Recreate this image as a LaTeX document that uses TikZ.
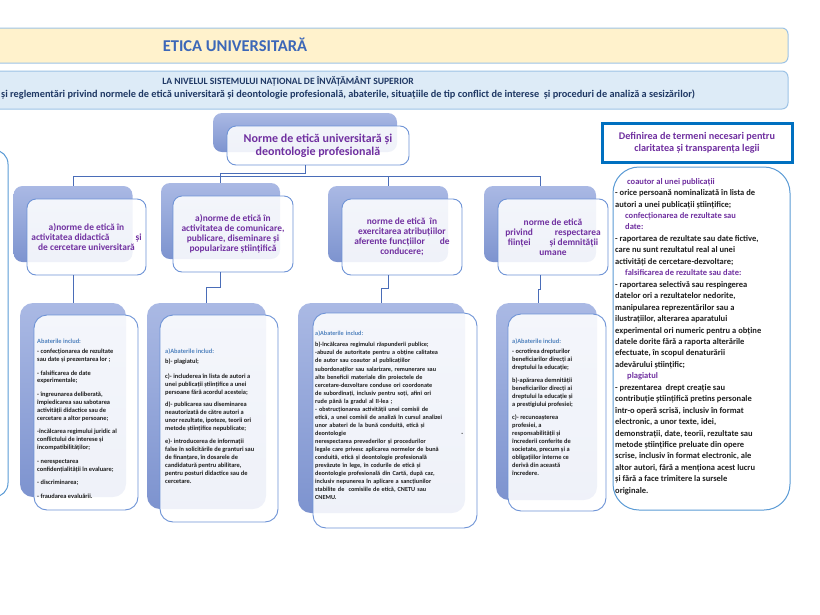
\documentclass[tikz,border=0pt]{standalone}
\usepackage{fontspec}
\setmainfont{Carlito}
\usetikzlibrary{positioning}
\lineskiplimit=-20pt
\definecolor{bklight}{HTML}{AAB9E4}
\definecolor{bkdark}{HTML}{7D93CF}
\definecolor{frontline}{HTML}{6E93D6}
\definecolor{linkblue}{HTML}{4A6DB8}
\definecolor{purp}{HTML}{7030A0}
\definecolor{abhead}{HTML}{4F81BD}
\definecolor{bodytext}{HTML}{1E1E1E}
\definecolor{titlefill}{HTML}{FFF2CC}
\definecolor{subfill}{HTML}{DDEBF7}
\definecolor{bandline}{HTML}{9DC3E6}
\definecolor{titleblue}{HTML}{3C67B8}
\definecolor{navy}{HTML}{1F3864}
\definecolor{definline}{HTML}{0070C0}
\definecolor{termsline}{HTML}{5B9BD5}

\begin{document}
\begin{tikzpicture}[x=1pt, y=-1pt,
  band/.style={rectangle, rounded corners=6pt, draw=bandline, line width=1pt, minimum width=798pt, inner sep=0pt},
  back/.style={rectangle, rounded corners=9pt, top color=bklight, bottom color=bkdark, inner sep=0pt},
  front/.style={rectangle, rounded corners=9pt, draw=frontline, line width=0.9pt, fill=white, fill opacity=0.88, text opacity=1, inner sep=0pt, align=center, text=purp, font=\bfseries\fontsize{9.4}{10}\selectfont},
  abtext/.style={anchor=north west, inner sep=0pt, align=left, text=bodytext, font=\bfseries\fontsize{6.4}{7.8}\selectfont},
  link/.style={draw=linkblue, line width=0.8pt}
]
\useasboundingbox (0,0) rectangle (820,614);

% header bands
\node[band, fill=titlefill, minimum height=35pt] (title) at (389,45.5) {};
\node[text=titleblue, font=\bfseries\fontsize{16.5}{18}\selectfont] (titletxt) at (235,45) {ETICA UNIVERSITARĂ};
\node[band, fill=subfill, minimum height=38pt] (subtitle) at (389,90) {};
\node[text=navy, font=\bfseries\fontsize{9.6}{11}\selectfont] (subline) at (288,81) {LA NIVELUL SISTEMULUI NAȚIONAL DE ÎNVĂȚĂMÂNT SUPERIOR};
\node[anchor=west, inner sep=0pt, text=navy, font=\bfseries\fontsize{10.3}{12}\selectfont] (subnote) at (1,94.5) {și reglementări privind normele de etică universitară și deontologie profesională, abaterile, situațiile de tip conflict de interese \ și proceduri de analiză a sesizărilor)};

% partly hidden box on the left
\node[draw=termsline, line width=1pt, rounded corners=14pt, minimum width=60pt, minimum height=347pt] (leftpart) at (-22,323.5) {};

% main node
\node[back, minimum width=184pt, minimum height=39pt] (mainb) at (305,132.5) {};
\node[front, minimum width=182pt, minimum height=39pt, font=\bfseries\fontsize{12}{13}\selectfont] (mainf) at (318,145.5) {Norme de etică universitară și\\deontologie profesională};

% first level
\node[back, minimum width=119pt, minimum height=76pt] (n1b) at (73,224) {};
\node[back, minimum width=119pt, minimum height=76pt] (n2b) at (220.5,221) {};
\node[back, minimum width=120pt, minimum height=76pt] (n3b) at (388,224) {};
\node[back, minimum width=112pt, minimum height=76pt] (n4b) at (540,224) {};
\node[front, minimum width=119pt, minimum height=76pt] (n1f) at (86.5,237) {a)norme de etică în\\activitatea didactică\hspace{26pt}și\\de cercetare universitară};
\node[front, minimum width=120pt, minimum height=76pt] (n2f) at (233,234) {a)norme de etică în\\activitatea de comunicare,\\publicare, diseminare și\\popularizare științifică};
\node[front, minimum width=120pt, minimum height=76pt] (n3f) at (402,237) {norme de etică \ în\\exercitarea atribuțiilor\\aferente funcțiilor\hspace{15pt}de\\conducere;};
\node[front, minimum width=110pt, minimum height=76pt] (n4f) at (553,237) {norme de etică\\privind\hspace{22pt}respectarea\\ființei\hspace{19pt}și demnității\\umane};

% second level
\node[back, rounded corners=13pt, minimum width=106pt, minimum height=194pt] (ab1b) at (73,400) {};
\node[back, rounded corners=13pt, minimum width=119pt, minimum height=206pt] (ab2b) at (206.5,406) {};
\node[back, rounded corners=13pt, minimum width=167pt, minimum height=210pt] (ab3b) at (381.5,408) {};
\node[back, rounded corners=13pt, minimum width=101pt, minimum height=197pt] (ab4b) at (546.5,401.5) {};
\node[front, rounded corners=13pt, minimum width=104pt, minimum height=195pt] (ab1f) at (86,412.5) {};
\node[front, rounded corners=13pt, minimum width=118pt, minimum height=207pt] (ab2f) at (219,418.5) {};
\node[front, rounded corners=13pt, minimum width=164pt, minimum height=215pt] (ab3f) at (395,420.5) {};
\node[front, rounded corners=13pt, minimum width=98pt, minimum height=197pt] (ab4f) at (557,412.5) {};

% connectors
\coordinate (hub) at (220,176);
\draw[link] (mainb.south |- mainf.south) -- ++(0,8) -| (hub);
\draw[link] (n1b.north |- hub) -- (n4b.north |- hub);
\foreach \n in {n1b,n2b,n3b,n4b}
  \draw[link] (\n.north |- hub) -- (\n.north);
\draw[link] (n1b.south |- n1f.south) -- (ab1b.north);
\draw[link] (n2b.south |- n2f.south) -- ++(0,15) -| (ab2b.north);
\draw[link] (n3b.south |- n3f.south) -- ++(0,13) -| (ab3b.north);
\draw[link] (n4b.south |- n4f.south) -- ++(0,14) -| ([xshift=-8.5pt]ab4b.north);

% texts of the second level
\node[abtext] (ab1txt) at (37,339) {\textcolor{abhead}{Abaterile includ:}\\[2pt]
- confecționarea de rezultate\\
sau date și prezentarea lor ;\\[6pt]
- falsificarea de date\\
experimentale;\\[6pt]
- îngreunarea deliberată,\\
împiedicarea sau sabotarea\\
activității didactice sau de\\
cercetare a altor persoane;\\[6pt]
-încălcarea regimului juridic al\\
conflictului de interese și\\
incompatibilităților;\\[6pt]
- nerespectarea\\
confidențialității în evaluare;\\[6pt]
- discriminarea;\\[6pt]
- fraudarea evaluării.};
\node[abtext, font=\bfseries\fontsize{6.4}{8}\selectfont] (ab2txt) at (165,349) {\textcolor{abhead}{a)Abaterile includ:}\\[2pt]
b)- plagiatul;\\[7pt]
c)- includerea în lista de autori a\\
unei publicații științifice a unei\\
persoane fără acordul acesteia;\\[4pt]
d)- publicarea sau diseminarea\\
neautorizată de către autori a\\
unor rezultate, ipoteze, teorii ori\\
metode științifice nepublicate;\\[5pt]
e)- introducerea de informații\\
false în solicitările de granturi sau\\
de finanțare, în dosarele de\\
candidatură pentru abilitare,\\
pentru posturi didactice sau de\\
cercetare.};
\node[abtext, text width=148pt, font=\bfseries\fontsize{6.2}{8.05}\selectfont] (ab3txt) at (315,331) {\textcolor{abhead}{a)Abaterile includ:}\\[3pt]
b)-încălcarea regimului răspunderii publice;\\
-abuzul de autoritate pentru a obține calitatea\\
de autor sau coautor al publicațiilor\\
subordonaților sau salarizare, remunerare sau\\
alte beneficii materiale din proiectele de\\
cercetare-dezvoltare conduse ori coordonate\\
de subordinați, inclusiv pentru soți, afini ori\\
rude până la gradul al II-lea ;\\
- obstrucționarea activității unei comisii de\\
etică, a unei comisii de analiză în cursul analizei\\
unor abateri de la bună conduită, etică și\\
deontologie\hfill-\\
nerespectarea prevederilor și procedurilor\\
legale care privesc aplicarea normelor de bună\\
conduită, etică și deontologie profesională\\
prevăzute în lege, în codurile de etică și\\
deontologie profesională din Cartă, după caz,\\
inclusiv nepunerea în aplicare a sancțiunilor\\
stabilite de \ comisiile de etică, CNETU sau\\
CNEMU.};
\node[abtext, font=\bfseries\fontsize{6.4}{8}\selectfont] (ab4txt) at (512,339) {\textcolor{abhead}{a)Abaterile includ:}\\[2pt]
- ocrotirea drepturilor\\
beneficiarilor direcți ai\\
dreptului la educație;\\[5pt]
b)-apărarea demnității\\
beneficiarilor direcți ai\\
dreptului la educație și\\
a prestigiului profesiei;\\[5pt]
c)- recunoașterea\\
profesiei, a\\
responsabilității și\\
încrederii conferite de\\
societate, precum și a\\
obligațiilor interne ce\\
derivă din această\\
încredere.};

% right column
\node[draw=definline, line width=3pt, fill=white, minimum width=190pt, minimum height=39pt, inner sep=0pt, align=center, text=purp, font=\bfseries\fontsize{10.2}{12}\selectfont] (defin) at (697,142.5) {Definirea de termeni necesari pentru\\claritatea și transparența legii};
\node[draw=termsline, line width=1pt, fill=white, rounded corners=26pt, minimum width=177pt, minimum height=343pt] (terms) at (701.5,338.5) {};
\node[anchor=north west, inner sep=0pt, align=left, text=bodytext, font=\bfseries\fontsize{8.5}{11.45}\selectfont] (termstxt) at (615,178) {\hspace*{12pt}\textcolor{purp}{coautor al unei publicații}\\
- orice persoană nominalizată în lista de\\
autori a unei publicații științifice;\\
\hspace*{10pt}\textcolor{purp}{confecționarea de rezultate sau}\\
\hspace*{10pt}\textcolor{purp}{date:}\\
- raportarea de rezultate sau date fictive,\\
care nu sunt rezultatul real al unei\\
activități de cercetare-dezvoltare;\\
\hspace*{10pt}\textcolor{purp}{falsificarea de rezultate sau date:}\\
- raportarea selectivă sau respingerea\\
datelor ori a rezultatelor nedorite,\\
manipularea reprezentărilor sau a\\
ilustrațiilor, alterarea aparatului\\
experimental ori numeric pentru a obține\\
datele dorite fără a raporta alterările\\
efectuate, în scopul denaturării\\
adevărului științific;\\
\hspace*{12pt}\textcolor{purp}{plagiatul}\\
- prezentarea \ drept creație sau\\
contribuție științifică pretins personale\\
într-o operă scrisă, inclusiv în format\\
electronic, a unor texte, idei,\\
demonstrații, date, teorii, rezultate sau\\
metode științifice preluate din opere\\
scrise, inclusiv în format electronic, ale\\
altor autori, fără a menționa acest lucru\\
și fără a face trimitere la sursele\\
originale.};
\end{tikzpicture}
\end{document}
